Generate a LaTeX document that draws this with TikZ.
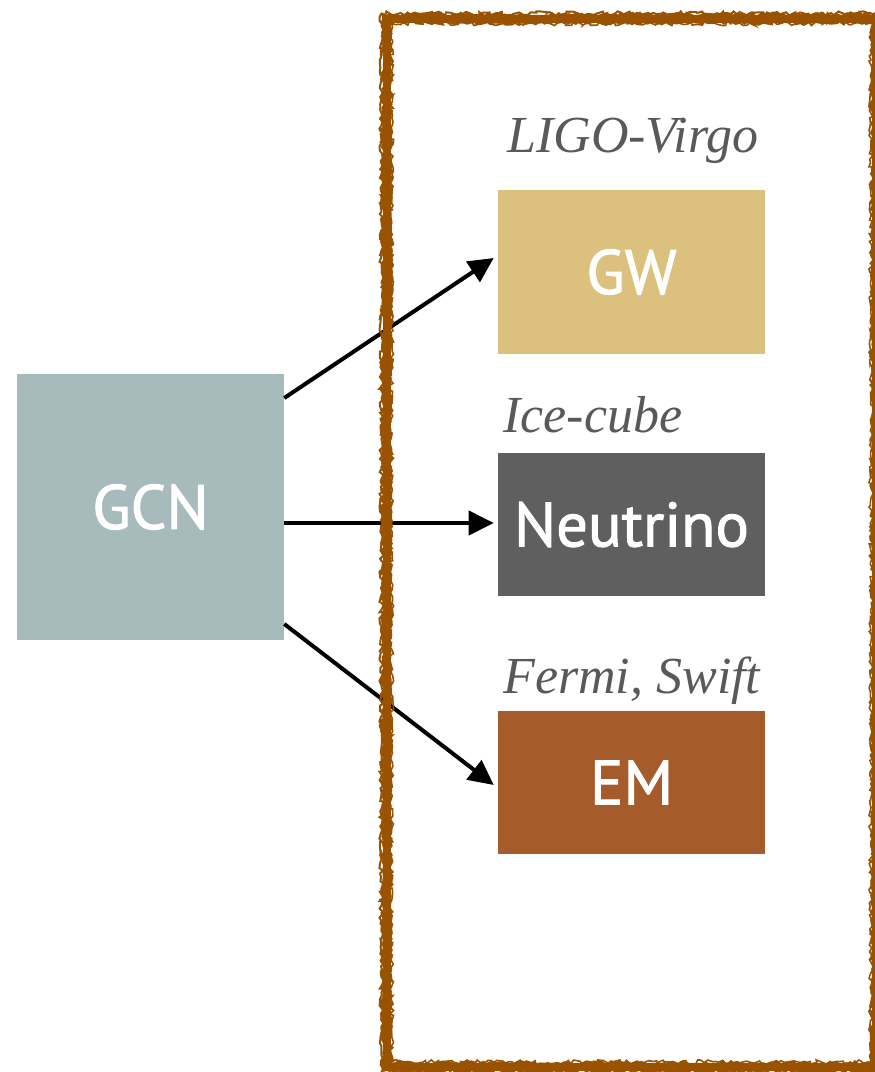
\documentclass[tikz,border=0pt]{standalone}
\usepackage{fontspec}
\setmainfont{Liberation Serif}
\newfontfamily\boxfont[FakeBold=1.6]{PT Sans}
\usetikzlibrary{arrows.meta,calc,decorations.pathmorphing}
\definecolor{gcnc}{HTML}{A7BBBC}
\definecolor{gwc}{HTML}{DCC07E}
\definecolor{nuc}{HTML}{5F5F5F}
\definecolor{emc}{HTML}{A65B2A}
\definecolor{framec}{HTML}{985200}
\definecolor{labc}{HTML}{595959}
\begin{document}
\begin{tikzpicture}[x=0.75pt,y=-0.75pt,
  boxnode/.style={inner sep=0pt, minimum width=200.25pt, text=white, font=\boxfont\fontsize{47}{49}\selectfont},
  labnode/.style={inner sep=0pt, anchor=base west, text=labc, font=\itshape\fontsize{39}{42}\selectfont},
  conn/.style={line width=3pt, -{Triangle[length=18.75pt,width=18pt]}},
  sketch/.style={framec, line width=#1, decorate, decoration={random steps, segment length=2.5pt, amplitude=1.6pt}}]
\useasboundingbox (0,0) rectangle (875,1072);
\pgfmathsetseed{7}
% nodes
\node[boxnode, fill=gcnc, minimum height=199.5pt] (gcn) at (150.5,507) {GCN};
\node[boxnode, fill=gwc, minimum height=123pt] (gw) at (631.5,272) {GW};
\node[boxnode, fill=nuc, minimum height=107.25pt] (nu) at (631.5,524.5) {Neutrino};
\node[boxnode, fill=emc, minimum height=107.25pt] (em) at (631.5,782.5) {EM};
% labels
\node[labnode, anchor=base] (l1) at (633,152) {LIGO-Virgo};
\node[labnode] (l2) at (503,432) {Ice-cube};
\node[labnode] (l3) at (503,693) {Fermi, Swift};
% connectors
\draw[conn] ($(gcn.east)+(0,-109)$) -- ($(gw.west)+(-4,-14)$);
\draw[conn] ($(gcn.east)+(0,16)$) -- ($(nu.west)+(-4,-1.5)$);
\draw[conn] ($(gcn.east)+(0,117)$) -- ($(em.west)+(-4,2.5)$);
% sketchy frame
\coordinate (f1) at (386.5,18.5);
\coordinate (f2) at (876,1067);
\draw[framec, line width=6pt] (f1) rectangle (f2);
\draw[sketch=2.5pt] ($(f1)+(-3,-3)$) rectangle ($(f2)+(3,3)$);
\draw[sketch=2.5pt] ($(f1)+(3,3)$) rectangle ($(f2)+(-3,-3)$);
\draw[sketch=1.5pt] ($(f1)+(-5,-5)$) rectangle ($(f2)+(5,5)$);
\draw[sketch=1.2pt] ($(f1)+(5,5)$) rectangle ($(f2)+(-5,-5)$);
\end{tikzpicture}
\end{document}
